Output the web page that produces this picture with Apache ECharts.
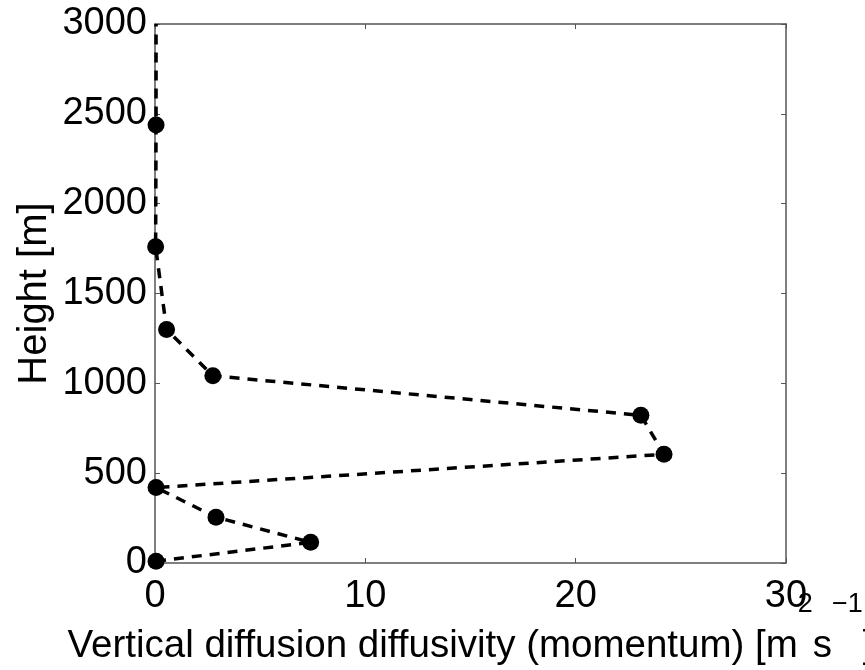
<!DOCTYPE html>
<html>
<head>
<meta charset="utf-8">
<script src="https://cdn.jsdelivr.net/npm/echarts@6/dist/echarts.min.js"></script>
<style>
  html, body { margin: 0; padding: 0; background: #fff; }
  #chart { width: 865px; height: 670px; }
</style>
</head>
<body>
<div id="chart"></div>
<script>
// diffusivity [m2 s-1] against height [m]
const diffusivity = [0.05, 7.4, 2.9, 0.05, 24.2, 23.1, 2.75, 0.55, 0.03, 0.05, 0.05]
const height = [10, 115, 255, 420, 605, 822, 1042, 1300, 1760, 2438, 3000]
const showMarker = [true, true, true, true, true, true, true, true, true, true, false]
const xTicks = [0, 10, 20, 30]
const yTicks = [0, 500, 1000, 1500, 2000, 2500, 3000]

const font = 'Liberation Sans'
const chart = echarts.init(document.getElementById('chart'))

const points = diffusivity.map((x, i) => ({
  value: [x, height[i]],
  symbol: showMarker[i] ? 'circle' : 'none'
}))

const boxLine = { show: true, onZero: false, lineStyle: { color: '#555', width: 1.5 } }
const inTick = { show: true, inside: true, length: 5, lineStyle: { color: '#555', width: 1 } }

const option = {
  animation: false,
  backgroundColor: '#fff',
  grid: { left: 155, right: 79, top: 24, bottom: 107, containLabel: false, outerBoundsMode: 'none' },
  xAxis: [
    {
      type: 'value', min: xTicks[0], max: xTicks[xTicks.length - 1], interval: 10,
      axisLine: boxLine, axisTick: inTick, splitLine: { show: false },
      axisLabel: { color: '#000', fontFamily: font, fontSize: 38, margin: 15 },
      name: '{b|Vertical diffusion diffusivity (momentum) [m}{sup|2}{b|s}{sup|\u22121}{b|]}',
      nameLocation: 'middle', nameGap: 28, nameMoveOverlap: false,
      nameTextStyle: {
        color: '#000', fontFamily: font, fontSize: 38.5,
        rich: {
          b: { fontSize: 38.5, fontFamily: font, color: '#000', verticalAlign: 'bottom' },
          sup: { fontSize: 27, fontFamily: font, color: '#000', verticalAlign: 'top', padding: [0, 0, 48, 0] }
        }
      }
    },
    {
      type: 'value', position: 'top', min: xTicks[0], max: xTicks[xTicks.length - 1], interval: 10,
      axisLine: boxLine, axisTick: inTick, axisLabel: { show: false }, splitLine: { show: false }
    }
  ],
  yAxis: [
    {
      type: 'value', min: yTicks[0], max: yTicks[yTicks.length - 1], interval: 500,
      axisLine: boxLine, axisTick: inTick, splitLine: { show: false },
      axisLabel: { color: '#000', fontFamily: font, fontSize: 38, margin: 8, formatter: v => String(v) },
      name: 'Height [m]', nameLocation: 'middle', nameGap: 100, nameRotate: 90, nameMoveOverlap: false,
      nameTextStyle: { color: '#000', fontFamily: font, fontSize: 40 }
    },
    {
      type: 'value', position: 'right', min: yTicks[0], max: yTicks[yTicks.length - 1], interval: 500,
      axisLine: boxLine, axisTick: inTick, axisLabel: { show: false }, splitLine: { show: false }
    }
  ],
  series: [
    {
      type: 'line',
      data: points,
      symbolSize: 17,
      itemStyle: { color: '#000' },
      lineStyle: { color: '#000', width: 3.5, type: [10, 8] },
      clip: false
    }
  ]
}

chart.setOption(option)
</script>
</body>
</html>
